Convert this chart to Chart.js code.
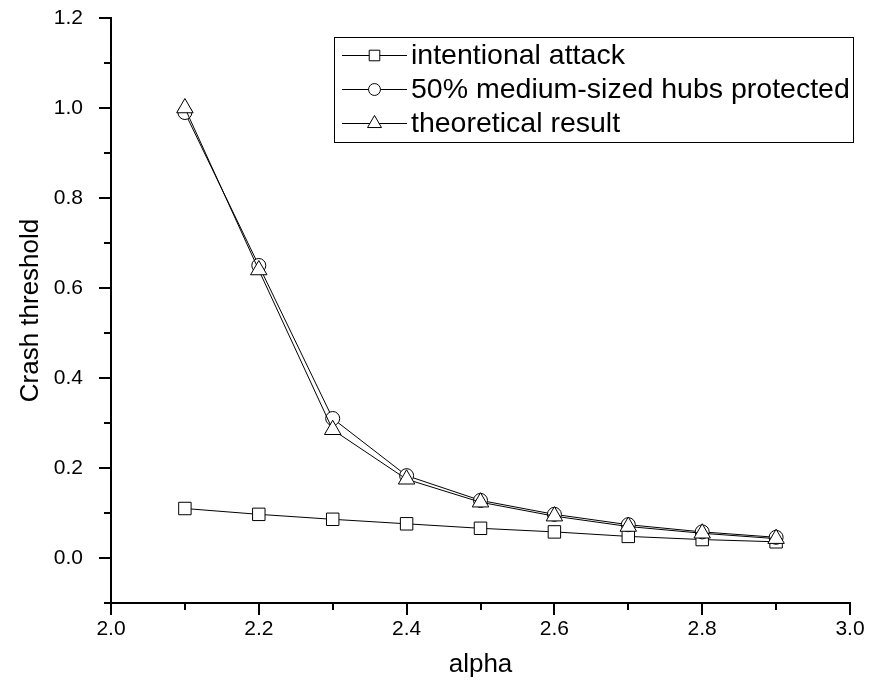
<!DOCTYPE html>
<html>
<head>
<meta charset="utf-8">
<script src="https://cdn.jsdelivr.net/npm/chart.js@4.4.0/dist/chart.umd.min.js"></script>
<style>
  html, body { margin: 0; padding: 0; background: #fff; }
  canvas { display: block; }
</style>
</head>
<body>
<canvas id="chart" width="880" height="693"></canvas>
<script>
// values
const alpha = [2.1, 2.2, 2.3, 2.4, 2.5, 2.6, 2.7, 2.8, 2.9];
const attack = [0.110, 0.097, 0.086, 0.076, 0.066, 0.058, 0.048, 0.041, 0.036];
const protectedHubs = [0.99, 0.65, 0.31, 0.183, 0.128, 0.097, 0.074, 0.058, 0.046];
const theory = [1.0, 0.64, 0.285, 0.175, 0.124, 0.093, 0.070, 0.055, 0.043];
const seriesNames = ['intentional attack', '50% medium-sized hubs protected', 'theoretical result'];
const xRange = [2.0, 3.0];
const yRange = [-0.1, 1.2];

const FONT = '"Liberation Sans", Arial, sans-serif';

function pts(ys) {
  return alpha.map((x, i) => ({ x: x, y: ys[i] }));
}

function isMajor(v) {
  return Math.round(v * 10) % 2 === 0;
}

// Origin-style outward ticks, long for labelled values, short in between
const tickMarks = {
  id: 'tickMarks',
  afterDraw(chart) {
    const ctx = chart.ctx;
    const xs = chart.scales.x, ys = chart.scales.y;
    const area = chart.chartArea;
    ctx.save();
    ctx.strokeStyle = '#000';
    ctx.lineWidth = 2;
    ctx.beginPath();
    ys.ticks.forEach(t => {
      const py = Math.round(ys.getPixelForValue(t.value));
      const len = isMajor(t.value) ? 12 : 7;
      ctx.moveTo(area.left, py);
      ctx.lineTo(area.left - len, py);
    });
    xs.ticks.forEach(t => {
      const px = Math.round(xs.getPixelForValue(t.value));
      const len = isMajor(t.value) ? 12 : 7;
      ctx.moveTo(px, area.bottom);
      ctx.lineTo(px, area.bottom + len);
    });
    ctx.stroke();
    ctx.restore();
  }
};

// boxed legend with line-marker-line samples
const boxLegend = {
  id: 'boxLegend',
  afterDraw(chart) {
    const ctx = chart.ctx;
    const area = chart.chartArea;
    const right = area.right + 3;
    const left = 334;
    const top = area.top + 19;
    const rowH = 34;
    const n = chart.data.datasets.length;
    ctx.save();
    ctx.fillStyle = '#fff';
    ctx.strokeStyle = '#000';
    ctx.lineWidth = 1;
    ctx.fillRect(left, top, right - left, rowH * n + 3);
    ctx.strokeRect(left + 0.5, top + 0.5, right - left, rowH * n + 3);
    chart.data.datasets.forEach((ds, i) => {
      const y = Math.round(top + 18 + i * rowH) + 0.5;
      ctx.beginPath();
      ctx.moveTo(342, y);
      ctx.lineTo(407, y);
      ctx.strokeStyle = '#000';
      ctx.lineWidth = 1;
      ctx.stroke();
      ctx.fillStyle = '#fff';
      Chart.helpers.drawPoint(ctx, {
        pointStyle: ds.pointStyle,
        radius: ds.pointRadius * 0.85,
        rotation: 0,
        borderWidth: 1
      }, 374.5, y);
      ctx.fillStyle = '#000';
      ctx.font = '28.5px ' + FONT;
      ctx.textBaseline = 'middle';
      ctx.textAlign = 'left';
      ctx.fillText(ds.label, 411, y + 1);
    });
    ctx.restore();
  }
};

function series(label, data, style, radius, order) {
  return {
    label: label,
    data: pts(data),
    borderColor: '#000',
    borderWidth: 1,
    backgroundColor: '#fff',
    pointStyle: style,
    pointRadius: radius,
    pointBorderWidth: 1,
    pointBackgroundColor: '#fff',
    pointBorderColor: '#000',
    tension: 0,
    order: order
  };
}

new Chart(document.getElementById('chart'), {
  type: 'line',
  data: {
    datasets: [
      series(seriesNames[0], attack, 'rect', 8.8, 3),
      series(seriesNames[1], protectedHubs, 'circle', 7, 2),
      series(seriesNames[2], theory, 'triangle', 9.5, 1)
    ]
  },
  options: {
    responsive: false,
    animation: false,
    devicePixelRatio: 1,
    layout: { padding: { left: 0, right: 30, top: 18, bottom: 0 } },
    plugins: {
      legend: { display: false },
      tooltip: { enabled: false }
    },
    scales: {
      x: {
        type: 'linear',
        min: xRange[0],
        max: xRange[1],
        grid: { display: false, drawTicks: false },
        border: { display: true, color: '#000', width: 2 },
        ticks: {
          stepSize: 0.1,
          padding: 14,
          color: '#000',
          font: { family: FONT, size: 21 },
          maxRotation: 0,
          autoSkip: false,
          callback: v => isMajor(v) ? v.toFixed(1) : ''
        },
        title: {
          display: true,
          text: 'alpha',
          color: '#000',
          font: { family: FONT, size: 26 },
          padding: { top: 0, bottom: 13 }
        },
        afterFit: s => {
          s.height = 90;
          s.paddingLeft = 0; s.paddingRight = 0;
          s.paddingTop = 0; s.paddingBottom = 0;
        }
      },
      y: {
        type: 'linear',
        min: yRange[0],
        max: yRange[1],
        grid: { display: false, drawTicks: false },
        border: { display: true, color: '#000', width: 2 },
        ticks: {
          stepSize: 0.1,
          padding: 28,
          color: '#000',
          font: { family: FONT, size: 21 },
          autoSkip: false,
          callback: v => isMajor(v) ? v.toFixed(1) : ''
        },
        title: {
          display: true,
          text: 'Crash threshold',
          color: '#000',
          font: { family: FONT, size: 26 },
          padding: { top: 15, bottom: 0 }
        },
        afterFit: s => {
          s.width = 111;
          s.paddingLeft = 0; s.paddingRight = 0;
          s.paddingTop = 0; s.paddingBottom = 0;
        }
      }
    }
  },
  plugins: [tickMarks, boxLegend]
});
</script>
</body>
</html>
